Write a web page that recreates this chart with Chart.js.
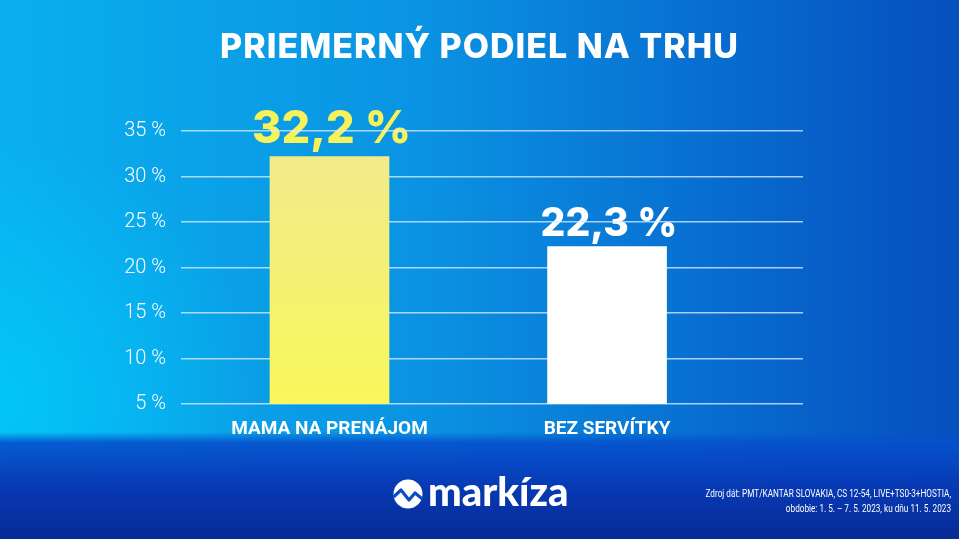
<!DOCTYPE html>
<html>
<head>
<meta charset="utf-8">
<script src="https://cdn.jsdelivr.net/npm/chart.js@4"></script>
<style>
  html, body { margin: 0; padding: 0; background: #0a7fdc; }
  #wrap { width: 959px; height: 539px; position: relative; }
</style>
</head>
<body>
<div id="wrap"><canvas id="bar_chart"></canvas></div>
<script>
// data
var categories = ["MAMA NA PRENÁJOM", "BEZ SERVÍTKY"];
var shares = [32.2, 22.3];
var shareLabels = ["32,2 %", "22,3 %"];
var yTicks = [5, 10, 15, 20, 25, 30, 35];
var titleText = "PRIEMERNÝ PODIEL NA TRHU";
var sourceLines = [
    "Zdroj dát: PMT/KANTAR SLOVAKIA, CS 12-54, LIVE+TS0-3+HOSTIA,",
    "obdobie: 1. 5. – 7. 5. 2023, ku dňu 11. 5. 2023"
];

// label styling (yellow one is a touch bigger in the original)
var labelColors = ["#f7f25a", "#ffffff"];
var labelSizes = [45, 39];
var labelGaps = [13, 11];

// background gradients + value labels (drawn under the grid lines, like the original)
var backgroundPlugin = {
    id: 'background',
    beforeDraw: function (chart) {
        var ctx = chart.ctx, w = chart.width, h = chart.height;
        ctx.save();
        var g = ctx.createLinearGradient(0, 0, w, 0);
        g.addColorStop(0, '#0ab0ee');
        g.addColorStop(0.45, '#0a92e2');
        g.addColorStop(0.8, '#0766cc');
        g.addColorStop(1, '#064fbe');
        ctx.fillStyle = g;
        ctx.fillRect(0, 0, w, h);

        var r = ctx.createRadialGradient(0, 400, 0, 0, 400, 260);
        r.addColorStop(0, 'rgba(0,205,250,0.75)');
        r.addColorStop(1, 'rgba(0,205,250,0)');
        ctx.fillStyle = r;
        ctx.fillRect(0, 0, w, h);

        var b = ctx.createLinearGradient(0, 432, 0, h);
        b.addColorStop(0, 'rgba(6,80,205,0)');
        b.addColorStop(0.1, 'rgba(6,80,205,0.9)');
        b.addColorStop(0.5, 'rgba(7,58,180,1)');
        b.addColorStop(1, 'rgba(8,42,150,1)');
        ctx.fillStyle = b;
        ctx.fillRect(0, 432, w, h - 432);

        var meta = chart.getDatasetMeta(0);
        ctx.textAlign = 'center';
        ctx.textBaseline = 'alphabetic';
        meta.data.forEach(function (bar, i) {
            ctx.font = '800 ' + labelSizes[i] + 'px Inter';
            ctx.fillStyle = labelColors[i];
            ctx.fillText(shareLabels[i], bar.x + 2, bar.y - labelGaps[i]);
        });
        ctx.restore();
    }
};

// title, logo + source note
var textPlugin = {
    id: 'texts',
    afterDraw: function (chart) {
        var ctx = chart.ctx;
        ctx.save();
        ctx.fillStyle = '#ffffff';
        ctx.font = '800 34px Inter';
        ctx.letterSpacing = '1px';
        ctx.textAlign = 'center';
        ctx.textBaseline = 'alphabetic';
        ctx.fillText(titleText, chart.width / 2, 58);
        ctx.letterSpacing = '0px';

        // logo circle
        var cx = 408, cy = 494, rad = 14.5;
        ctx.beginPath();
        ctx.arc(cx, cy, rad, 0, Math.PI * 2);
        ctx.fill();
        ctx.strokeStyle = '#0a4ec4';
        ctx.lineWidth = 3.2;
        ctx.lineJoin = 'round';
        ctx.beginPath();
        ctx.moveTo(cx - rad, cy + 3);
        ctx.lineTo(cx - 7, cy - 4);
        ctx.lineTo(cx + 1, cy + 6);
        ctx.lineTo(cx + 7, cy - 1);
        ctx.lineTo(cx + rad, cy + 5);
        ctx.stroke();

        ctx.font = '900 40px Lato';
        ctx.textAlign = 'left';
        ctx.fillText('markíza', 428, 506);

        ctx.font = '10.5px Roboto';
        ctx.textAlign = 'right';
        ctx.translate(951, 0);
        ctx.scale(0.78, 1);
        ctx.fillText(sourceLines[0], 0, 497);
        ctx.fillText(sourceLines[1], 0, 512);
        ctx.restore();
    }
};

var barColor = function (context) {
    var chart = context.chart;
    if (context.dataIndex === 1) return '#ffffff';
    var area = chart.chartArea;
    if (!area) return '#f8f560';
    var g = chart.ctx.createLinearGradient(0, area.top, 0, area.bottom);
    g.addColorStop(0, '#f1e98e');
    g.addColorStop(1, '#f9f75c');
    return g;
};

new Chart(document.getElementById('bar_chart').getContext('2d'), {
    type: 'bar',
    data: {
        datasets: [{
            data: shares.map(function (v, i) { return { x: i, y: v }; }),
            backgroundColor: barColor,
            borderWidth: 0,
            barThickness: 119
        }]
    },
    options: {
        responsive: true,
        maintainAspectRatio: false,
        animation: false,
        layout: { padding: { left: 0, right: 156, top: 131, bottom: 95 } },
        plugins: {
            legend: { display: false },
            tooltip: { enabled: false }
        },
        scales: {
            x: {
                type: 'linear',
                min: -0.535,
                max: 1.706,
                offset: false,
                bounds: 'data',
                afterBuildTicks: function (scale) {
                    scale.ticks = categories.map(function (c, i) { return { value: i }; });
                },
                afterFit: function (scale) {
                    scale.height = 40;
                    scale.paddingLeft = 0;
                    scale.paddingRight = 0;
                },
                grid: { display: false },
                border: { display: false },
                ticks: {
                    color: '#ffffff',
                    padding: 6,
                    maxRotation: 0,
                    autoSkip: false,
                    font: { family: 'Roboto', size: 19, weight: '700' },
                    callback: function (value) { return categories[value]; }
                }
            },
            y: {
                min: 5,
                max: 35,
                afterBuildTicks: function (scale) {
                    scale.ticks = yTicks.map(function (v) { return { value: v }; });
                },
                afterFit: function (scale) {
                    scale.width = 181;
                    scale.paddingTop = 0;
                    scale.paddingBottom = 0;
                },
                grid: { color: 'rgba(215,235,255,0.78)', lineWidth: 1.6, drawTicks: false },
                border: { display: false },
                ticks: {
                    color: '#ffffff',
                    padding: 15,
                    font: { family: 'Roboto', size: 20, weight: '300' },
                    callback: function (value) { return value + ' %'; }
                }
            }
        }
    },
    plugins: [backgroundPlugin, textPlugin]
});
</script>
</body>
</html>
